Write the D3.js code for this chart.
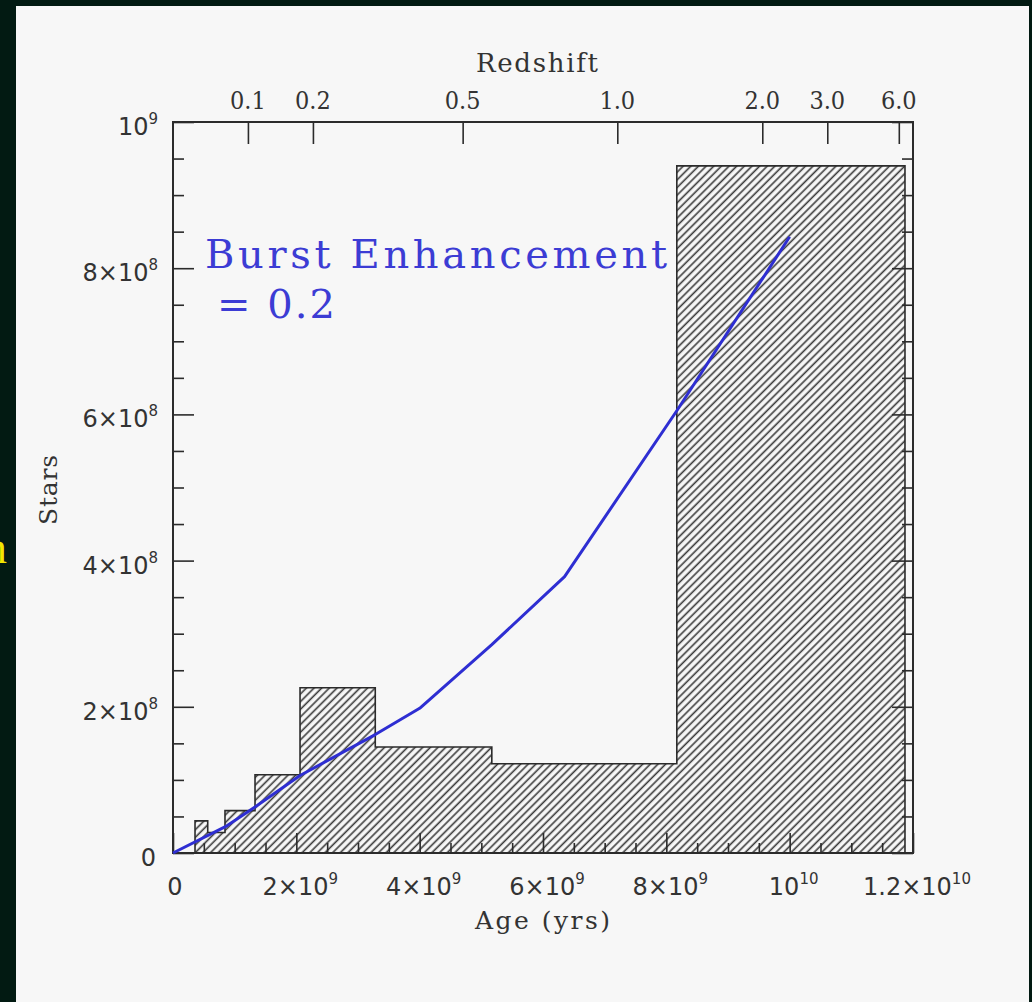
<!DOCTYPE html>
<html>
<head>
<meta charset="utf-8">
<script src="https://cdn.jsdelivr.net/npm/d3@7"></script>
<style>
  body { margin: 0; background: #021a12; }
  svg { display: block; }
</style>
</head>
<body>
<script>
var W = 1032, H = 1002;

// histogram bins (age in yrs) and counts
var binEdges = [0, 0.357e9, 0.563e9, 0.843e9, 1.33e9, 2.06e9, 3.28e9, 5.17e9, 8.17e9, 11.87e9];
var binStars = [0, 4.4e7, 2.8e7, 5.8e7, 1.07e8, 2.26e8, 1.45e8, 1.22e8, 9.4e8];

// model curve, burst enhancement 0.2
var modelAge = [0, 0.85e9, 1.33e9, 2.06e9, 3.28e9, 4.0e9, 5.17e9, 6.35e9, 8.17e9, 10.0e9];
var modelStars = [0, 3.6e7, 6.3e7, 1.06e8, 1.62e8, 1.98e8, 2.85e8, 3.78e8, 6.05e8, 8.43e8];

// redshift ticks on top axis, placed at their age
var zLabels = ["0.1", "0.2", "0.5", "1.0", "2.0", "3.0", "6.0"];
var zAges = [1.215e9, 2.269e9, 4.697e9, 7.205e9, 9.556e9, 10.61e9, 11.77e9];

var xMajor = [0, 2e9, 4e9, 6e9, 8e9, 1e10, 1.2e10];
var xLabels = [["0", ""], ["2×10", "9"], ["4×10", "9"], ["6×10", "9"], ["8×10", "9"], ["10", "10"], ["1.2×10", "10"]];
var yMajor = [0, 2e8, 4e8, 6e8, 8e8, 1e9];
var yLabels = [["0", ""], ["2×10", "8"], ["4×10", "8"], ["6×10", "8"], ["8×10", "8"], ["10", "9"]];

var svg = d3.select("body").append("svg").attr("width", W).attr("height", H);

svg.append("rect").attr("width", W).attr("height", H).attr("fill", "#021a12");
svg.append("rect").attr("x", 16).attr("y", 6).attr("width", 1013).attr("height", H - 6).attr("fill", "#f7f7f7");

// bit of yellow text cut off at the left edge
svg.append("text").attr("x", 7).attr("y", 563).attr("text-anchor", "end")
    .attr("font-family", "Liberation Serif").attr("font-size", 46).attr("fill", "#f2e600").text("n");

var x = d3.scaleLinear().domain([0, 1.2e10]).range([173, 913]);
var y = d3.scaleLinear().domain([0, 1e9]).range([853, 122]);

var defs = svg.append("defs");
var pat = defs.append("pattern").attr("id", "hatch").attr("patternUnits", "userSpaceOnUse")
    .attr("width", 5.4).attr("height", 5.4).attr("patternTransform", "rotate(-45)");
pat.append("rect").attr("width", 5.4).attr("height", 5.4).attr("fill", "#f7f7f7");
pat.append("line").attr("x1", -1).attr("x2", 7).attr("y1", 1.2).attr("y2", 1.2)
    .attr("stroke", "#3a3a3a").attr("stroke-width", 1.6);

// histogram as a step outline
var steps = [[binEdges[0], 0]];
for (var i = 0; i < binStars.length; i++) {
    steps.push([binEdges[i], binStars[i]]);
    steps.push([binEdges[i + 1], binStars[i]]);
}
steps.push([binEdges[binEdges.length - 1], 0]);
var line = d3.line().x(function(d) { return x(d[0]); }).y(function(d) { return y(d[1]); });
svg.append("path").datum(steps).attr("d", line)
    .attr("fill", "url(#hatch)").attr("stroke", "#2b2b2b").attr("stroke-width", 1.6);

// axes, ticks point inward
function minor(step, max, skip) {
    return d3.range(0, max + 1, step).filter(function(v) { return Math.round(v / skip) * skip !== v; });
}
function ticks(g) {
    g.select(".domain").remove();
    g.selectAll("line").attr("stroke", "#2b2b2b").attr("stroke-width", 1.6);
}
svg.append("g").attr("transform", "translate(0,853)")
    .call(d3.axisBottom(x).tickValues(xMajor).tickSize(-20).tickFormat("")).call(ticks);
svg.append("g").attr("transform", "translate(0,853)")
    .call(d3.axisBottom(x).tickValues(minor(5e8, 1.2e10, 2e9)).tickSize(-10).tickFormat("")).call(ticks);
svg.append("g").attr("transform", "translate(173,0)")
    .call(d3.axisLeft(y).tickValues(yMajor).tickSize(-21).tickFormat("")).call(ticks);
svg.append("g").attr("transform", "translate(173,0)")
    .call(d3.axisLeft(y).tickValues(minor(5e7, 1e9, 2e8)).tickSize(-11).tickFormat("")).call(ticks);
svg.append("g").attr("transform", "translate(913,0)")
    .call(d3.axisRight(y).tickValues(yMajor).tickSize(-21).tickFormat("")).call(ticks);
svg.append("g").attr("transform", "translate(913,0)")
    .call(d3.axisRight(y).tickValues(minor(5e7, 1e9, 2e8)).tickSize(-11).tickFormat("")).call(ticks);
svg.append("g").attr("transform", "translate(0,122)")
    .call(d3.axisTop(x).tickValues(zAges).tickSize(-22).tickFormat("")).call(ticks);

svg.append("rect").attr("x", 173).attr("y", 122).attr("width", 740).attr("height", 731)
    .attr("fill", "none").attr("stroke", "#2b2b2b").attr("stroke-width", 2);

// tick labels with exponents
function sciLabel(sel, lab) {
    sel.append("tspan").text(lab[0]);
    if (lab[1]) sel.append("tspan").attr("dy", -11).attr("font-size", 15).text(lab[1]);
}
var numFont = "DejaVu Sans";
xMajor.forEach(function(v, i) {
    var t = svg.append("text").attr("x", x(v) + (i === 0 ? 2 : 4)).attr("y", 895)
        .attr("text-anchor", "middle").attr("font-family", numFont).attr("font-size", 24)
        .attr("fill", "#333");
    sciLabel(t, xLabels[i]);
});
yMajor.forEach(function(v, i) {
    var t = svg.append("text").attr("x", yLabels[i][1] ? 158 : 156).attr("y", y(v) + 13)
        .attr("text-anchor", "end").attr("font-family", numFont).attr("font-size", 24)
        .attr("fill", "#333");
    sciLabel(t, yLabels[i]);
});
zAges.forEach(function(v, i) {
    svg.append("text").attr("x", x(v)).attr("y", 109).attr("text-anchor", "middle")
        .attr("font-family", "DejaVu Serif Condensed, DejaVu Serif").attr("font-size", 25).attr("fill", "#333")
        .text(zLabels[i]);
});

// axis titles
svg.append("text").attr("x", 476).attr("y", 72).attr("textLength", 122)
    .attr("font-family", "DejaVu Serif").attr("font-size", 26).attr("fill", "#333").text("Redshift");
svg.append("text").attr("x", 475).attr("y", 929).attr("textLength", 135)
    .attr("font-family", "DejaVu Serif").attr("font-size", 25).attr("fill", "#333").text("Age (yrs)");
svg.append("text").attr("transform", "translate(57,525) rotate(-90)").attr("textLength", 70)
    .attr("font-family", "DejaVu Serif").attr("font-size", 25).attr("fill", "#333").text("Stars");

// model curve
var model = modelAge.map(function(a, i) { return [a, modelStars[i]]; });
svg.append("path").datum(model).attr("d", line).attr("fill", "none")
    .attr("stroke", "#2e2ed2").attr("stroke-width", 3).attr("stroke-linejoin", "round");

svg.append("text").attr("x", 205).attr("y", 268).attr("textLength", 462).attr("lengthAdjust", "spacing")
    .attr("font-family", "DejaVu Serif").attr("font-size", 40).attr("fill", "#3c3cd4")
    .text("Burst Enhancement");
svg.append("text").attr("x", 217).attr("y", 318).attr("textLength", 118).attr("lengthAdjust", "spacing")
    .attr("font-family", "DejaVu Serif").attr("font-size", 40).attr("fill", "#3c3cd4")
    .text("= 0.2");
</script>
</body>
</html>
